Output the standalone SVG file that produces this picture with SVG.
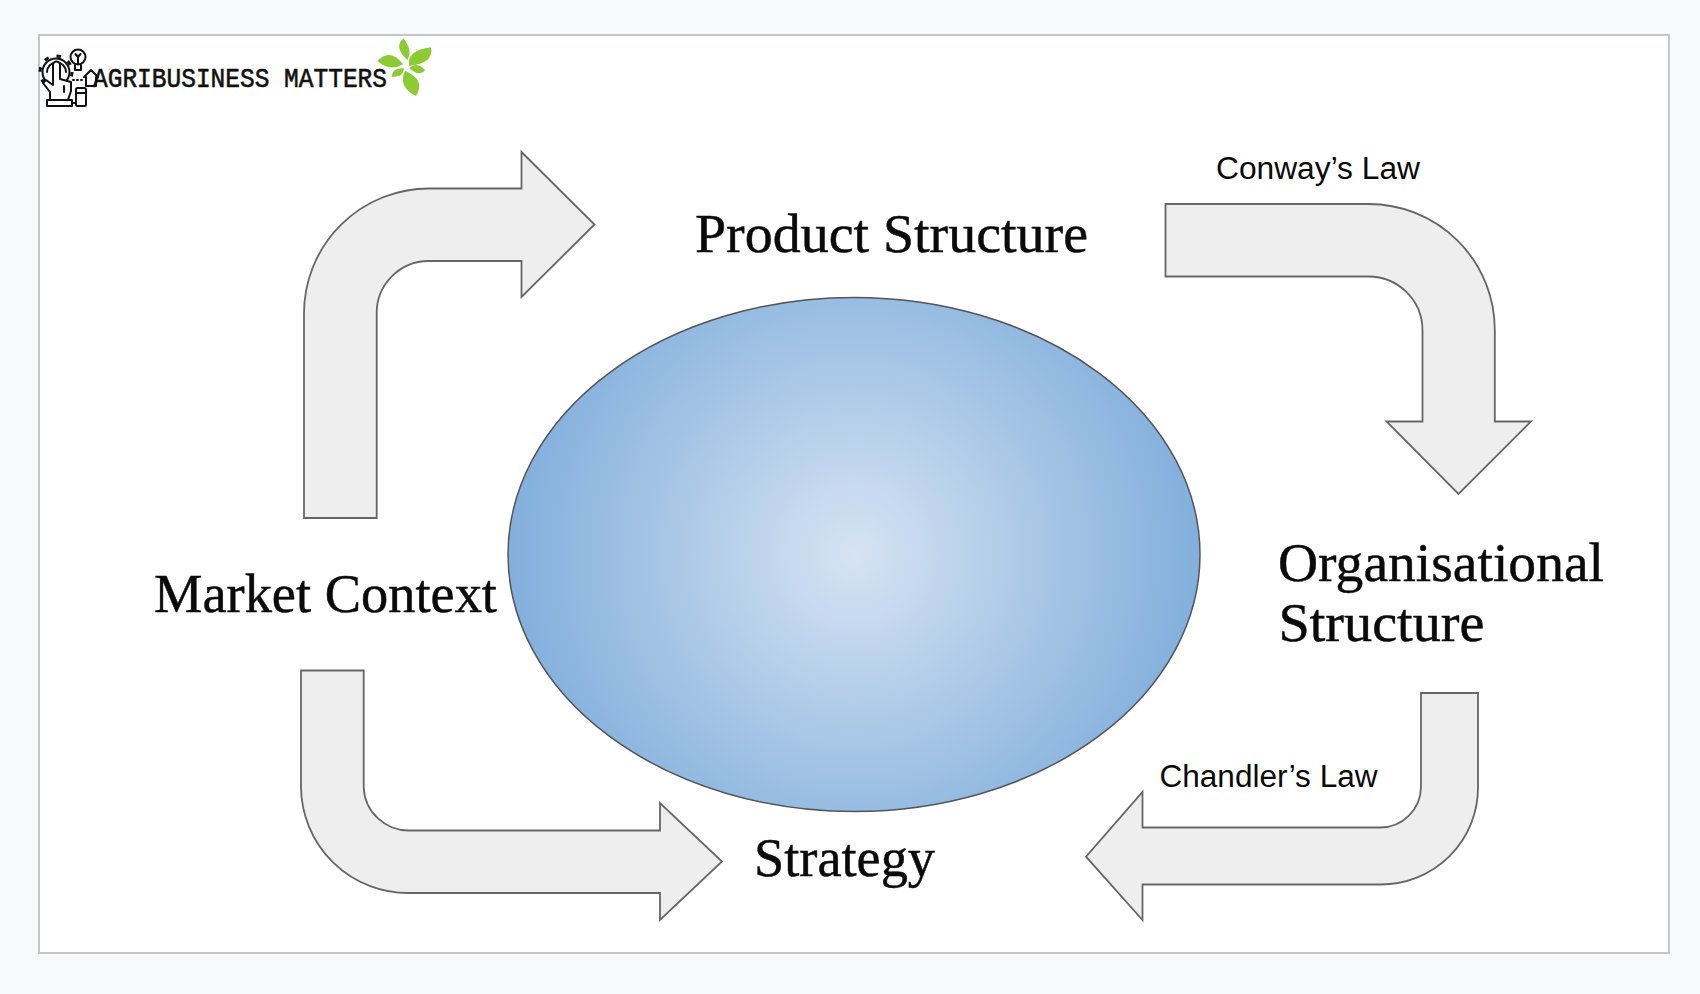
<svg xmlns="http://www.w3.org/2000/svg" width="1700" height="994" viewBox="0 0 1700 994">
<style>
.arrow{fill:#eeeeee;stroke:#666666;stroke-width:1.8;stroke-linejoin:miter}
.serif{font-family:"Liberation Serif","DejaVu Serif",serif;font-size:54px;fill:#0a0a0a;stroke:#0a0a0a;stroke-width:.45}
.sans{font-family:"Liberation Sans",Arial,sans-serif;font-size:31px;fill:#0a0a0a}
.ico{fill:none;stroke:#111;stroke-width:2;stroke-linejoin:round;stroke-linecap:round}
.leaf{fill:#8ccb33}
</style>
<defs>
<radialGradient id="g" cx="854" cy="554" r="346" gradientUnits="userSpaceOnUse">
<stop offset="0" stop-color="#d6e3f3"/><stop offset="1" stop-color="#82afdc"/>
</radialGradient>
</defs>
<rect width="1700" height="994" fill="#f8f9fb"/>
<rect x="39" y="35" width="1630" height="918" fill="#fff" stroke="#c4c6c6" stroke-width="2"/>
<g id="logo">
<g class="ico">
<circle cx="56" cy="72" r="13.500"/>
<circle cx="56" cy="72" r="16" stroke-width="3" stroke-dasharray="4.500 8.070" stroke-linecap="butt"/>
<path d="M47 72a9.500 9.500 0 0 1 19 0"/>
<path d="M50 100V92L43 83L46 80L53 85V65a3.500 3.500 0 0 1 7 0V79L71 82V91L68 100Z" fill="#fff"/>
<path d="M64 86v6"/>
<rect x="47" y="100" width="25" height="6" fill="#fff"/>
<circle cx="78" cy="57" r="7.500" fill="#fff"/>
<path d="M78 57v7M75.500 54l2.500 3 2.500-3M75 65v5h6v-5"/>
<path d="M84 77l7-7 7 7M86 77v9h10v-9"/>
<rect x="76" y="88" width="10" height="18" rx="1.500" fill="#fff"/>
<path d="M76 93h10M72 103h4"/>
<path d="M73 80h10" stroke-dasharray="1 3"/>
</g>
<text x="93" y="87" textLength="294" lengthAdjust="spacingAndGlyphs" style="font-family:'Liberation Mono','DejaVu Sans Mono',monospace;font-size:27px;fill:#111;stroke:#111;stroke-width:.6">AGRIBUSINESS MATTERS</text>
<g>
<path class="leaf" d="M403.300 38.300Q393.300 47.400 407.300 60Q413.300 50.800 403.300 38.300Z"/>
<path class="leaf" d="M431 47.300Q406.400 50.100 409.300 65.700Q434.400 63.500 431 47.300Z"/>
<path class="leaf" d="M377.300 61Q389.700 47.300 403.300 64.300Q389.700 71.900 377.300 61Z"/>
<path class="leaf" d="M409.300 68.300Q416.200 60.800 425 70Q419.400 77.400 409.300 68.300Z"/>
<path class="leaf" d="M391.700 76.700Q392.100 67.500 404 68.300Q403.500 77.500 391.700 76.700Z"/>
<path class="leaf" d="M416 96Q397.500 86.600 405 70.700Q426.100 80 416 96Z"/>
</g>
</g>
<g id="center-ellipse"><ellipse cx="854" cy="554.500" rx="346" ry="257" fill="url(#g)" stroke="#555" stroke-width="1.5"/></g>
<g id="connectors">
<path id="arrow-market-product" class="arrow" d="M304 518V313.500A125 125 0 0 1 429 188.500H521.500V152L594.500 224.500L521.500 297V261H429A52 52 0 0 0 376.700 313.500V518Z"/>
<path id="arrow-conway" class="arrow" d="M1165.500 204H1368A126 126 0 0 1 1494.800 330V421.500H1531L1458.500 494L1386.500 421.500H1422.500V330A54 54 0 0 0 1368 276.500H1165.500Z"/>
<path id="arrow-chandler" class="arrow" d="M1421 693H1478V786.700A97 97 0 0 1 1380 884.500H1142.500V920L1086 856.700L1142.500 792V827.500H1380A41 41 0 0 0 1421 786.700Z"/>
<path id="arrow-market-strategy" class="arrow" d="M301 670.500H363.700V786.700A45 45 0 0 0 410 830.500H660V803L722 861.500L660 920V893H410A107 107 0 0 1 301 786.700Z"/>
</g>
<g id="node-product"><text class="serif" x="695" y="252" textLength="393" lengthAdjust="spacingAndGlyphs">Product Structure</text></g>
<g id="node-market"><text class="serif" x="154" y="612" textLength="343" lengthAdjust="spacingAndGlyphs">Market Context</text></g>
<g id="node-strategy"><text class="serif" x="754" y="876" textLength="181" lengthAdjust="spacingAndGlyphs">Strategy</text></g>
<g id="node-organisational"><text class="serif" x="1278" y="581" textLength="326" lengthAdjust="spacingAndGlyphs">Organisational</text><text class="serif" x="1278.500" y="641" textLength="206" lengthAdjust="spacingAndGlyphs">Structure</text></g>
<g id="label-conway"><text class="sans" x="1216" y="179" textLength="204" lengthAdjust="spacingAndGlyphs">Conway’s Law</text></g>
<g id="label-chandler"><text class="sans" x="1159.500" y="787" textLength="218" lengthAdjust="spacingAndGlyphs">Chandler’s Law</text></g>
</svg>
